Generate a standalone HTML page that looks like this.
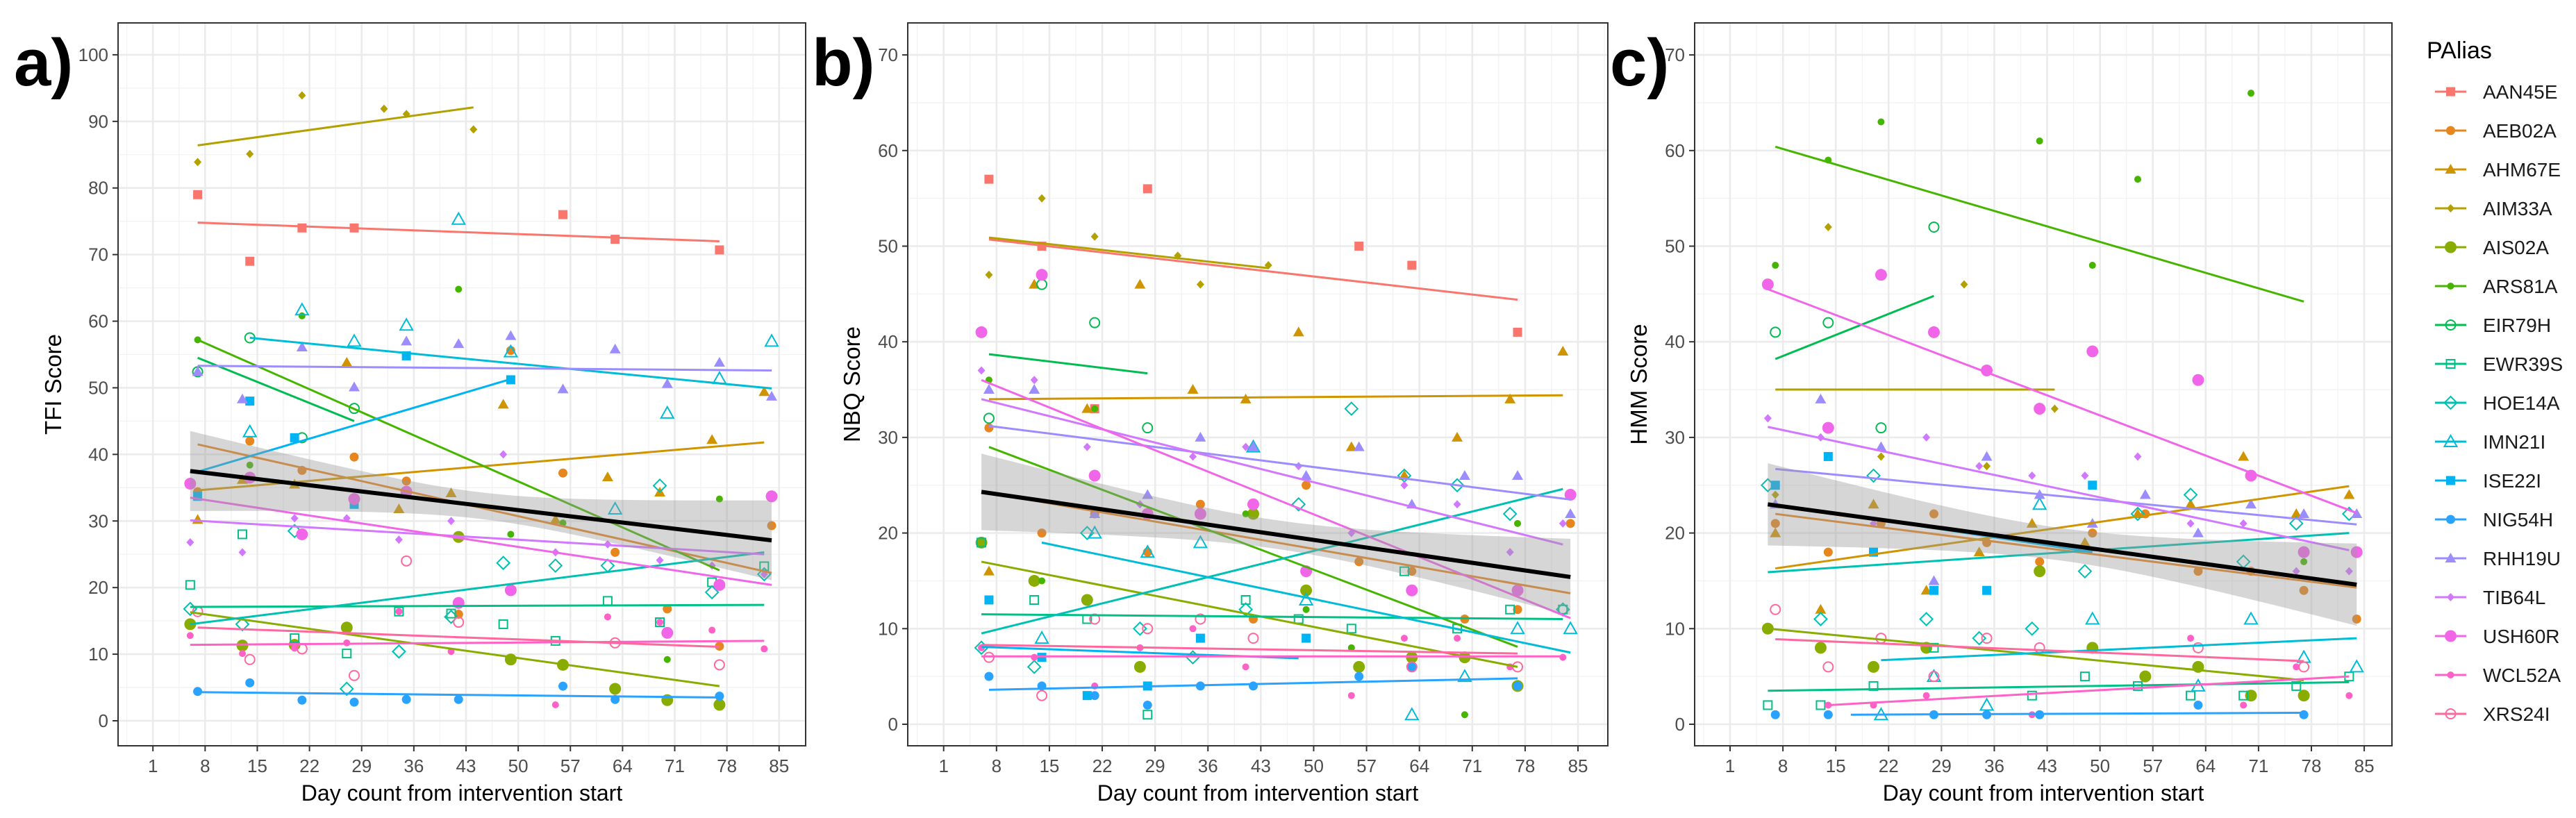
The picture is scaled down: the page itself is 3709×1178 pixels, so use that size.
<!DOCTYPE html>
<html><head><meta charset="utf-8"><style>
html,body{margin:0;padding:0;background:#fff;}
svg{display:block;font-family:"Liberation Sans",Arial,sans-serif;}
</style></head><body>
<svg id="chart" width="3709" height="1178" viewBox="0 0 3709 1178" xmlns="http://www.w3.org/2000/svg"></svg>
<script>
const participants = ["AAN45E","AEB02A","AHM67E","AIM33A","AIS02A","ARS81A","EIR79H","EWR39S","HOE14A","IMN21I","ISE22I","NIG54H","RHH19U","TIB64L","USH60R","WCL52A","XRS24I"];
const colors = ["#F8766D","#E7851E","#D09400","#B2A100","#89AC00","#45B500","#00BC51","#00C087","#00C0B2","#00BCD6","#00B3F2","#29A3FF","#9C8DFF","#D277FF","#F166E8","#FF61C7","#FF689E"];
const shapes = ["sqF","cirF","triF","diaF","cirB","cirS","cirO","sqO","diaO","triO","sqF","cirF","triF","diaF","cirB","cirS","cirO"];
const xTicks = [1,8,15,22,29,36,43,50,57,64,71,78,85];

// Panel a: TFI
const tfiDays = [[7,14,21,28,56,63,77],[7,14,21,28,35,42,49,56,63,70,77,84],[7,13,20,27,34,41,48,55,62,69,76,83],[7,14,21,32,35,44],[6,13,20,27,42,49,56,63,70,77],[7,14,21,42,49,56,70,77],[7,14,21,28],[6,13,20,27,34,41,48,55,62,69,76,83],[6,13,20,27,34,41,48,55,62,69,76,83],[14,21,28,35,42,49,63,70,77,84],[7,14,20,28,35,49],[7,14,21,28,35,42,56,63,77],[7,13,21,28,35,42,49,56,63,70,77,84],[6,13,20,27,34,41,48,55,62,69,76,83],[6,14,21,28,35,42,49,70,77,84],[6,13,20,27,34,41,55,62,69,76,83],[7,14,21,28,35,42,63,77]];
const tfiScores = [[79,69,74,74,76,72.3,70.7],[34.4,42,37.6,39.6,36,16,55.6,37.2,25.3,16.8,11.2,29.3],[30.2,36.2,35.5,53.8,31.8,34.2,47.5,30.2,36.6,34.3,42.2,49.4],[83.9,85.1,93.9,91.9,91.1,88.8],[14.5,11.3,11.4,14,27.6,9.2,8.4,4.8,3.1,2.4],[57.2,38.4,60.8,64.8,28,29.7,9.2,33.3],[52.4,57.5,42.5,46.9],[20.4,28,12.4,10.1,16.4,16.1,14.5,12,18,14.8,20.8,23.2],[16.8,14.5,28.5,4.8,10.4,15.6,23.7,23.3,23.3,35.3,19.3,22],[43.4,61.7,57,59.4,75.3,55.4,31.8,46.2,51.4,57],[33.7,48,42.5,32.5,54.8,51.2],[4.4,5.7,3.1,2.8,3.2,3.2,5.2,3.2,3.7],[52.4,48.3,56.1,50.1,57,56.6,57.8,49.8,55.8,50.6,53.8,48.7],[26.8,25.3,30.4,30.4,27.2,30,40,25.3,26.5,24.1,23.3,22],[35.6,36.5,28,33.3,34.4,17.7,19.6,13.2,20.4,33.7],[12.8,10.1,10.9,11.7,16.4,10.4,2.4,15.6,14.8,13.6,10.8],[16.4,9.2,10.8,6.8,24,14.8,11.7,8.4]];
const tfiFits = [[7,74.8,77,72],[7,41.5,84,22.2],[7,34.6,83,41.8],[7,86.4,44,92.1],[6,16.3,77,5.2],[7,57.2,77,22.6],[7,54.5,28,45],[6,17.1,83,17.4],[6,14.5,83,25.3],[14,57.5,84,49.9],[7,37.4,49,51.3],[7,4.3,77,3.5],[7,53.3,84,52.6],[6,30.1,83,25],[6,33.5,84,20.4],[6,11.4,83,12],[7,14,77,11.1]];

// Panel b: NBQ
const nbqDays = [[7,14,21,28,56,63,77],[7,14,21,28,35,42,49,56,63,70,77,84],[7,13,20,27,34,41,48,55,62,69,76,83],[7,14,21,32,35,44],[6,13,20,27,42,49,56,63,70,77],[7,14,21,41,49,55,70,77],[7,14,21,28],[6,13,20,28,41,48,55,62,69,76,83],[6,13,20,27,34,41,48,55,62,69,76,83],[14,21,28,35,42,49,63,70,77,84],[7,14,20,28,35,49],[7,14,21,28,35,42,56,63,77],[7,13,21,28,35,42,49,56,63,70,77,84],[6,13,20,27,34,41,48,55,62,69,76,83],[6,14,21,28,35,42,49,63,77,84],[6,13,21,27,34,41,55,62,69,76,83],[7,14,21,28,35,42,63,77]];
const nbqScores = [[57,50,33,56,50,48,41],[31,20,22,18,23,11,25,17,16,11,12,21],[16,46,33,46,35,34,41,29,26,30,34,39],[47,55,51,49,46,48],[19,15,13,6,22,14,6,7,7,4],[36,15,33,22,12,8,1,21],[32,46,42,31],[19,13,11,1,13,11,10,16,10,12,12],[8,6,20,10,7,12,23,33,26,25,22,12],[9,20,18,19,29,13,1,5,10,10],[13,7,3,4,9,9],[5,4,3,2,4,4,5,6,4],[35,35,22,24,30,29,26,29,23,26,26,22],[37,36,29,23,28,29,27,20,25,23,18,21],[41,47,26,22,22,23,16,14,14,24],[8,7,4,8,10,6,3,9,9,6,7],[7,3,11,10,11,9,6,6]];
const nbqFits = [[7,50.7,77,44.4],[7,24.2,84,13.7],[7,34,83,34.4],[7,50.9,44,47.7],[6,17,77,6],[7,29,77,8.1],[7,38.7,28,36.7],[6,11.5,83,11],[6,9.5,83,24.6],[14,19,84,7.5],[6,8.1,48,6.9],[7,3.6,77,4.8],[7,31.2,84,23.5],[6,34,83,18.8],[6,36,84,11.1],[6,7.1,83,7.1],[6,8.3,77,7.4]];

// Panel c: HMM
const hmmDays = [[],[7,14,21,28,35,42,49,56,63,70,77,84],[7,13,20,27,34,41,48,55,62,69,76,83],[7,14,21,32,35,44],[6,13,20,27,42,49,56,63,70,77],[7,14,21,42,49,55,70,77],[7,14,21,28],[6,13,20,28,41,48,55,62,69,76,83],[6,13,20,27,34,41,48,55,62,69,76,83],[21,28,35,42,49,63,70,77,84],[7,14,20,28,35,49],[7,14,28,35,42,63,77],[7,13,21,28,35,42,49,56,63,70,77,84],[6,13,20,27,34,41,48,55,62,69,76,83],[6,14,21,28,35,42,49,63,70,77,84],[14,20,27,41,62,69,76,83],[7,14,21,28,35,42,63,77]];
const hmmScores = [[],[21,18,21,22,19,17,20,22,16,16,14,11],[20,12,23,14,18,21,19,22,23,28,22,24],[24,52,28,46,27,33],[10,8,6,8,16,8,5,6,3,3],[48,59,63,61,48,57,66,17],[41,42,31,52],[2,2,4,8,3,5,4,3,3,4,5],[25,11,26,11,9,10,16,22,24,17,21,22],[1,5,2,23,11,4,11,7,6],[25,28,18,14,14,25],[1,1,1,1,1,2,1],[23,34,29,15,28,24,21,24,20,23,22,22],[32,30,21,30,27,26,26,28,21,21,16,16],[46,31,47,41,37,33,39,36,26,18,18],[2,2,3,1,9,2,6,3],[12,6,9,5,9,8,8,6]];
const hmmFits = [null,[7,22,84,14.3],[7,16.3,83,24.9],[7,35,44,35],[6,10,77,4.6],[7,60.4,77,44.2],[7,38.2,28,44.8],[6,3.5,83,4.4],[6,15.9,83,20],[21,6.7,84,9],[7,23,49,18],[17,1.0,77,1.2],[7,26.7,84,20.9],[6,31.1,83,18.2],[6,45.5,84,22.1],[14,2,83,5],[7,8.9,77,6.6]];

// Overall fits (black line + ribbon)
const overallStart = [37.5,24.3,23];
const overallEnd = [27.1,15.4,14.6];
const ribbonEndHalfWidth = [6,4,4.3];
const ribbonMidHalfWidth = [2,1.5,1.7];
const yTickMax = [100,70,70];
const yTitles = ["TFI Score","NBQ Score","HMM Score"];
const panelLabels = ["a)","b)","c)"];

const panels = [
 {L:170,R:1160,x1:220.2,xs:10.733,y0:1038,ys:9.591,titleOff:93,labX:20},
 {L:1307,R:2315,x1:1358.7,xs:10.873,y0:1043,ys:13.77,titleOff:80,labX:1169},
 {L:2440,R:3444,x1:2491,xs:10.87,y0:1043,ys:13.77,titleOff:80,labX:2318}
];
const TOP=33, BOT=1074;
const NS="http://www.w3.org/2000/svg";
const svg=document.getElementById("chart");
function mk(tag,attrs,parent){const e=document.createElementNS(NS,tag);for(const k in attrs)e.setAttribute(k,attrs[k]);(parent||svg).appendChild(e);return e;}

function drawShape(g,shape,cx,cy,col,scale){
  const s=scale||1;let e;
  if(shape==="sqF"){e=mk("rect",{x:cx-6.5*s,y:cy-6.5*s,width:13*s,height:13*s,fill:col},g);}
  else if(shape==="sqO"){e=mk("rect",{x:cx-6*s,y:cy-6*s,width:12*s,height:12*s,fill:"none",stroke:col,"stroke-width":2},g);}
  else if(shape==="cirF"){e=mk("circle",{cx:cx,cy:cy,r:6.5*s,fill:col},g);}
  else if(shape==="cirB"){e=mk("circle",{cx:cx,cy:cy,r:8.5*s,fill:col},g);}
  else if(shape==="cirS"){e=mk("circle",{cx:cx,cy:cy,r:5*s,fill:col},g);}
  else if(shape==="cirO"){e=mk("circle",{cx:cx,cy:cy,r:7*s,fill:"none",stroke:col,"stroke-width":2},g);}
  else if(shape==="triF"){e=mk("polygon",{points:`${cx},${cy-8*s} ${cx+8*s},${cy+6*s} ${cx-8*s},${cy+6*s}`,fill:col},g);}
  else if(shape==="triO"){e=mk("polygon",{points:`${cx},${cy-9*s} ${cx+9*s},${cy+7*s} ${cx-9*s},${cy+7*s}`,fill:"none",stroke:col,"stroke-width":2},g);}
  else if(shape==="diaF"){e=mk("polygon",{points:`${cx},${cy-6*s} ${cx+5.5*s},${cy} ${cx},${cy+6*s} ${cx-5.5*s},${cy}`,fill:col},g);}
  else if(shape==="diaO"){e=mk("polygon",{points:`${cx},${cy-9*s} ${cx+9*s},${cy} ${cx},${cy+9*s} ${cx-9*s},${cy}`,fill:"none",stroke:col,"stroke-width":2},g);}
  return e;
}

const allDays=[tfiDays,nbqDays,hmmDays], allScores=[tfiScores,nbqScores,hmmScores], allFits=[tfiFits,nbqFits,hmmFits];
const panelNames=["tfi","nbq","hmm"];

panels.forEach((p,pi)=>{
  const X=d=>p.x1+(d-1)*p.xs;
  const Y=v=>p.y0-v*p.ys;
  const g=mk("g",{});
  
  
  mk("rect",{x:p.L,y:TOP,width:p.R-p.L,height:BOT-TOP,fill:"#fff"},g);
  // minor grid
  const yMin=(p.y0-BOT)/p.ys*-1, yMax=(p.y0-TOP)/p.ys;
  for(let v=5;v<yMax;v+=10){mk("line",{x1:p.L,x2:p.R,y1:Y(v),y2:Y(v),stroke:"#F2F2F2","stroke-width":1.3},g);}
  for(let d=-2.5;d<=92;d+=7){const x=X(d);if(x>p.L&&x<p.R)mk("line",{x1:x,x2:x,y1:TOP,y2:BOT,stroke:"#F2F2F2","stroke-width":1.3},g);}
  // major grid
  for(let v=0;v<=yTickMax[pi];v+=10){mk("line",{x1:p.L,x2:p.R,y1:Y(v),y2:Y(v),stroke:"#EBEBEB","stroke-width":2.6},g);}
  xTicks.forEach(d=>{mk("line",{x1:X(d),x2:X(d),y1:TOP,y2:BOT,stroke:"#EBEBEB","stroke-width":2.6},g);});
  // points
  const days=allDays[pi], scores=allScores[pi], fits=allFits[pi];
  participants.forEach((name,i)=>{
    days[i].forEach((d,j)=>{
      const e=drawShape(g,shapes[i],X(d),Y(scores[i][j]),colors[i]);
      
      
    });
  });
  // fits
  participants.forEach((name,i)=>{
    const f=fits[i]; if(!f) return;
    const l=mk("line",{x1:X(f[0]),y1:Y(f[1]),x2:X(f[2]),y2:Y(f[3]),stroke:colors[i],"stroke-width":3},g);
    
    
  });
  // ribbon
  const s0=overallStart[pi], s1=overallEnd[pi], he=ribbonEndHalfWidth[pi], hm=ribbonMidHalfWidth[pi];
  const mid=(6+84)/2, half=(84-6)/2;
  const fy=d=>s0+(s1-s0)*(d-6)/(84-6);
  const hw=d=>Math.sqrt(hm*hm+(he*he-hm*hm)*Math.pow((d-mid)/half,2));
  let up=[],lo=[];
  for(let d=6;d<=84.001;d+=1){up.push(X(d)+","+Y(fy(d)+hw(d)));lo.unshift(X(d)+","+Y(fy(d)-hw(d)));}
  const rb=mk("polygon",{points:up.concat(lo).join(" "),fill:"#999999","fill-opacity":0.4},g);
  
  
  const bl=mk("line",{x1:X(6),y1:Y(s0),x2:X(84),y2:Y(s1),stroke:"#000","stroke-width":6},g);
  
  
  // border
  mk("rect",{x:p.L,y:TOP,width:p.R-p.L,height:BOT-TOP,fill:"none",stroke:"#333","stroke-width":2},g);
  // y ticks
  for(let v=0;v<=yTickMax[pi];v+=10){
    mk("line",{x1:p.L-8,x2:p.L,y1:Y(v),y2:Y(v),stroke:"#333","stroke-width":2},g);
    const t=mk("text",{x:p.L-14,y:Y(v)+9,"text-anchor":"end","font-size":26,fill:"#4D4D4D"},g);
    t.textContent=v;
    
    
  }
  xTicks.forEach(d=>{
    mk("line",{x1:X(d),x2:X(d),y1:BOT,y2:BOT+8,stroke:"#333","stroke-width":2},g);
    const t=mk("text",{x:X(d),y:1112,"text-anchor":"middle","font-size":26,fill:"#4D4D4D"},g);
    t.textContent=d;
    
    
  });
  const xt=mk("text",{x:(p.L+p.R)/2,y:1153,"text-anchor":"middle","font-size":32,fill:"#000"},g);
  xt.textContent="Day count from intervention start";
  
  
  const cy=(TOP+BOT)/2, cx=p.L-p.titleOff;
  const yt=mk("text",{x:cx,y:cy,"text-anchor":"middle","font-size":33,fill:"#000",transform:`rotate(-90 ${cx} ${cy}) translate(0 11)`},g);
  yt.textContent=yTitles[pi];
  
  
  const pl=mk("text",{x:p.labX,y:123,"font-size":96,"font-weight":"bold",fill:"#000"},g);
  pl.textContent=panelLabels[pi];
  
  
});

// legend
const lg=mk("g",{});


const lt=mk("text",{x:3494,y:84,"font-size":34,fill:"#000"},lg);
lt.textContent="PAlias";


participants.forEach((name,i)=>{
  const y=132+i*56;
  const eg=mk("g",{},lg);
  
  
  mk("line",{x1:3506,x2:3551,y1:y,y2:y,stroke:colors[i],"stroke-width":3},eg);
  drawShape(eg,shapes[i],3528.5,y,colors[i]);
  const t=mk("text",{x:3575,y:y+10,"font-size":28,fill:"#1a1a1a"},eg);
  t.textContent=name;
});
</script>
</body></html>
